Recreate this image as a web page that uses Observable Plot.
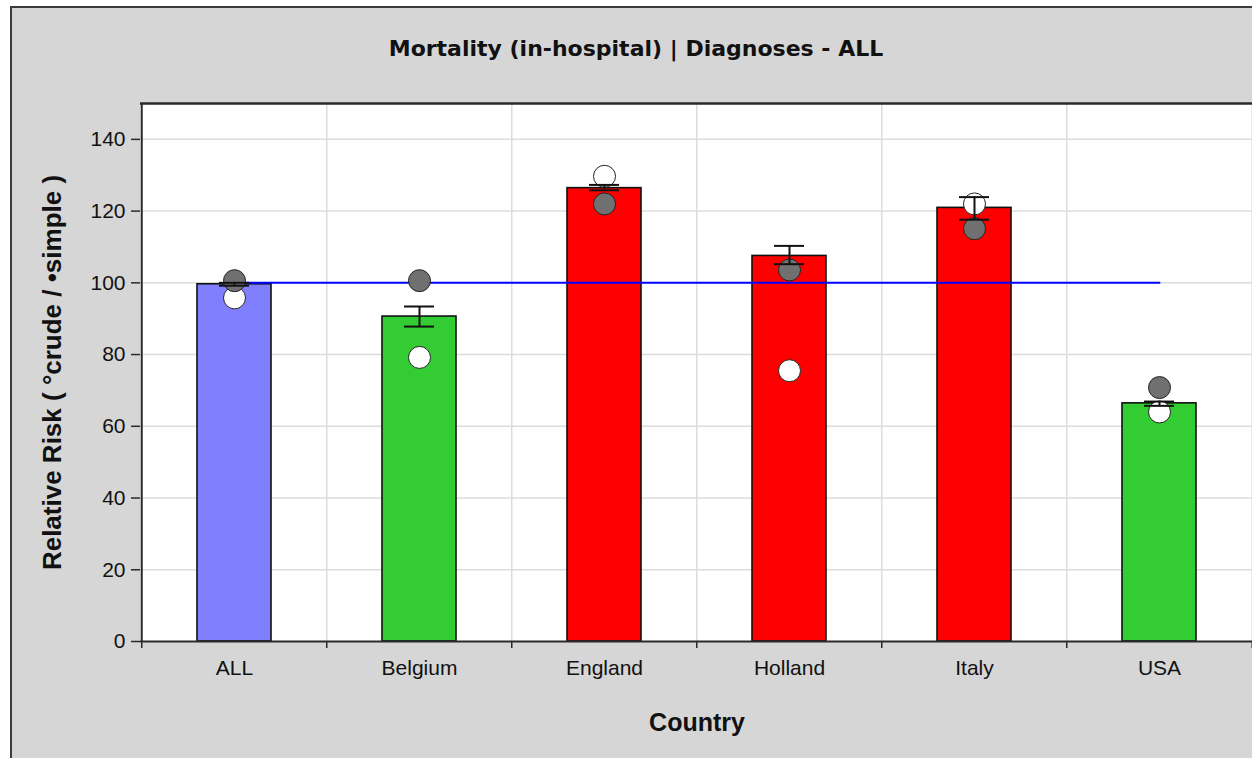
<!DOCTYPE html>
<html>
<head>
<meta charset="utf-8">
<script src="https://cdn.jsdelivr.net/npm/d3@7"></script>
<script src="https://cdn.jsdelivr.net/npm/@observablehq/plot@0.6"></script>
<style>
  html, body { margin: 0; padding: 0; background: #ffffff; overflow: hidden; width: 1252px; height: 758px; }
  #panel { position: absolute; left: 10px; top: 6px; width: 1300px; height: 800px; box-sizing: border-box;
           background: #d6d6d6; border: 2px solid #3c3c3c; }
  #title { position: absolute; left: 0; top: 34px; width: 1272px; text-align: center;
           font: bold 22px "DejaVu Sans", sans-serif; line-height: 30px; color: #111; }
  #chart { position: absolute; left: 0; top: 90px; width: 1260px; }
  #chart svg { max-width: none !important; }
</style>
</head>
<body>
<div id="panel"></div>
<div id="title">Mortality (in-hospital) | Diagnoses - ALL</div>
<div id="chart"></div>
<script>
// ---- data ----
const countries = ["ALL", "Belgium", "England", "Holland", "Italy", "USA"];
const riskValues = [99.6, 90.6, 126.4, 107.5, 120.9, 66.4];
const errLow  = [99.2, 87.8, 125.8, 105.2, 117.6, 65.7];
const errHigh = [100.0, 93.4, 127.3, 110.3, 123.9, 66.9];
const crudeValues  = [95.8, 79.2, 129.7, 75.5, 122.0, 64.0];
const simpleValues = [100.6, 100.6, 122.0, 103.6, 115.1, 70.8];
const status = ["reference", "lower", "higher", "higher", "higher", "lower"];
const referenceValue = 100;
const yTicks = [0, 20, 40, 60, 80, 100, 120, 140];
const titleText = "Mortality (in-hospital) | Diagnoses - ALL";
const xLabel = "Country";
const yLabel = "Relative Risk ( °crude / •simple )";

const rows = countries.map((c, i) => ({
  country: c, value: riskValues[i], lo: errLow[i], hi: errHigh[i],
  crude: crudeValues[i], simple: simpleValues[i], status: status[i], ref: referenceValue
}));

// ---- layout ----
const W = 1260, H = 668;
const mL = 140, mR = 7, mT = 13, mB = 117;
const step = (W - mL - mR) / countries.length;
const gridColor = "#dcdcdc";
const axisColor = "#2a2a2a";

const chart = Plot.plot({
  width: W, height: H,
  marginLeft: mL, marginRight: mR, marginTop: mT, marginBottom: mB,
  style: { background: "transparent", fontFamily: "'Liberation Sans', Arial, sans-serif", fontSize: "21px", color: "#111", maxWidth: "none" },
  x: { type: "band", domain: countries, paddingInner: 0.6, paddingOuter: 0.3, label: null },
  y: { domain: [0, 150], label: null },
  color: { domain: ["reference", "lower", "higher"], range: ["#8080ff", "#33cc33", "#ff0000"] },
  marks: [
    Plot.frame({ fill: "white", stroke: null }),
    Plot.gridY(yTicks.slice(1), { stroke: gridColor, strokeOpacity: 1, strokeWidth: 1.5 }),
    Plot.gridX({ ticks: countries.slice(1), dx: -step / 2, stroke: gridColor, strokeOpacity: 1, strokeWidth: 1.5 }),
    Plot.gridX({ ticks: countries.slice(-1), dx: step / 2, stroke: gridColor, strokeOpacity: 1, strokeWidth: 1.5 }),
    Plot.barY(rows, { x: "country", y: "value", fill: "status", stroke: "#111", strokeWidth: 1.6 }),
    Plot.lineY(rows, { x: "country", y: "ref", stroke: "#0000ff", strokeWidth: 2 }),
    Plot.dot(rows, { x: "country", y: "crude", r: 11, fill: "white", stroke: "#222", strokeWidth: 1 }),
    Plot.dot(rows, { x: "country", y: "simple", r: 11, fill: "#707070", stroke: "#222", strokeWidth: 1 }),
    Plot.ruleX(rows, { x: "country", y1: "lo", y2: "hi", stroke: "#111", strokeWidth: 2 }),
    Plot.tickY(rows, { x: "country", y: "lo", insetLeft: 22, insetRight: 22, stroke: "#111", strokeWidth: 2 }),
    Plot.tickY(rows, { x: "country", y: "hi", insetLeft: 22, insetRight: 22, stroke: "#111", strokeWidth: 2 }),
    // frame lines
    Plot.ruleY([0], { stroke: axisColor, strokeWidth: 2 }),
    Plot.ruleY([150], { stroke: axisColor, strokeWidth: 2.5 }),
    Plot.ruleX(countries.slice(0, 1), { dx: -step / 2, stroke: axisColor, strokeWidth: 2 }),
    // axes
    Plot.axisY({ ticks: yTicks, tickSize: 9, tickPadding: 6, fontSize: 21, stroke: axisColor, strokeWidth: 1.5 }),
    Plot.axisX({ ticks: countries, tickSize: 0, tickPadding: 19, fontSize: 21 }),
    Plot.axisX({ ticks: countries, tickSize: 7, dx: -step / 2, tickFormat: () => "", stroke: axisColor, strokeWidth: 1.5 }),
    Plot.axisX({ ticks: countries.slice(-1), tickSize: 7, dx: step / 2, tickFormat: () => "", stroke: axisColor, strokeWidth: 1.5 }),
    // axis titles
    Plot.text([yLabel], { frameAnchor: "left", dx: -88, rotate: -90, textAnchor: "middle", lineAnchor: "middle", fontSize: 26, fontWeight: "bold", fill: "#111" }),
    Plot.text([xLabel], { frameAnchor: "bottom", dy: 81, textAnchor: "middle", lineAnchor: "middle", fontSize: 25, fontWeight: "bold", fill: "#111" })
  ]
});
document.getElementById("chart").appendChild(chart);
document.getElementById("title").textContent = titleText;
</script>
</body>
</html>
